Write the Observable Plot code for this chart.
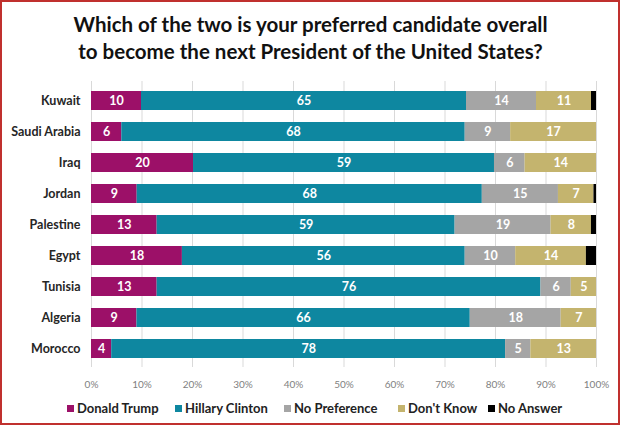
<!DOCTYPE html>
<html>
<head>
<meta charset="utf-8">
<script src="https://cdn.jsdelivr.net/npm/d3@7"></script>
<script src="https://cdn.jsdelivr.net/npm/@observablehq/plot@0.6"></script>
<style>
  html, body { margin: 0; padding: 0; background: #fff; }
  #wrap { position: relative; width: 621px; height: 426px; overflow: hidden; font-family: Lato, "Open Sans", sans-serif; }
  #border { position: absolute; left: 0; top: 0; width: 620px; height: 425px; box-sizing: border-box; border: 2px solid #c0302e; pointer-events: none; }
  #title { position: absolute; left: 0; top: 11px; width: 621px; text-align: center; font-weight: 700; font-size: 20.5px; line-height: 26.5px; color: #111; }
  #chart { position: absolute; left: 0; top: 72px; }
  #legend { position: absolute; left: 0; top: 400px; width: 621px; height: 20px; font-weight: 700; font-size: 13px; color: #222; }
  .li { position: absolute; top: 0; white-space: nowrap; }
  .sw { position: absolute; top: 5px; width: 7px; height: 7px; }
</style>
</head>
<body>
<div id="wrap">
  <div id="title">Which of the two is your preferred candidate overall<br>to become the next President of the United States?</div>
  <div id="chart"></div>
  <div id="legend"></div>
  <div id="border"></div>
</div>
<script>
const countries = ["Kuwait", "Saudi Arabia", "Iraq", "Jordan", "Palestine", "Egypt", "Tunisia", "Algeria", "Morocco"];
const answers = ["Donald Trump", "Hillary Clinton", "No Preference", "Don't Know", "No Answer"];
const colors = ["#9c1068", "#0e87a0", "#a5a5a5", "#c4b46e", "#000000"];
const trump      = [10, 6, 20, 9, 13, 18, 13, 9, 4];
const clinton    = [65, 68, 59, 68, 59, 56, 76, 66, 78];
const noPref     = [14, 9, 6, 15, 19, 10, 6, 18, 5];
const dontKnow   = [11, 17, 14, 7, 8, 14, 5, 7, 13];
const noAnswer   = [1, 0, 0, 0.5, 1, 2, 0, 0, 0];
const tickLabels = ["0%", "10%", "20%", "30%", "40%", "50%", "60%", "70%", "80%", "90%", "100%"];

const series = [trump, clinton, noPref, dontKnow, noAnswer];
const data = [];
countries.forEach((c, i) => {
  answers.forEach((a, j) => {
    data.push({country: c, answer: a, value: series[j][i]});
  });
});

const ticks = d3.range(0, 11).map(i => i / 10);

const chart = Plot.plot({
  width: 621,
  height: 323,
  marginLeft: 91,
  marginRight: 25,
  marginTop: 9,
  marginBottom: 28,
  style: { fontFamily: "Lato, 'Open Sans', sans-serif", background: "transparent" },
  x: { domain: [0, 1], ticks: ticks, tickFormat: (d) => tickLabels[Math.round(d * 10)] },
  y: { domain: countries, paddingInner: 0.4, paddingOuter: 0.2, label: null },
  color: { domain: answers, range: colors },
  marks: [
    Plot.ruleX(ticks, { stroke: "#d9d9d9", strokeWidth: 1 }),
    Plot.barX(data, Plot.stackX({ x: "value", y: "country", fill: "answer", order: answers, offset: "normalize", z: "answer" })),
    Plot.text(data, Plot.stackX({
      x: "value", y: "country", z: "answer", order: answers, offset: "normalize",
      text: d => (d.answer === "No Answer" || d.value === 0) ? "" : String(d.value),
      fill: "white", fontWeight: 700, fontSize: 12.5
    })),
    Plot.axisX({ ticks: ticks, tickFormat: d => tickLabels[Math.round(d * 10)], tickSize: 0, tickPadding: 13, fontSize: 10, fill: "#7f7f7f", label: null }),
    Plot.axisY({ tickSize: 0, tickPadding: 11, fontSize: 12.5, fontWeight: 700, fill: "#262626", label: null })
  ]
});
document.getElementById("chart").appendChild(chart);

const legend = document.getElementById("legend");
const swX = [67, 175, 284, 398, 488];
answers.forEach((a, i) => {
  const sw = document.createElement("div");
  sw.className = "sw";
  sw.style.left = swX[i] + "px";
  sw.style.background = colors[i];
  legend.appendChild(sw);
  const t = document.createElement("div");
  t.className = "li";
  t.style.left = (swX[i] + 10) + "px";
  t.textContent = a;
  legend.appendChild(t);
});
</script>
</body>
</html>
